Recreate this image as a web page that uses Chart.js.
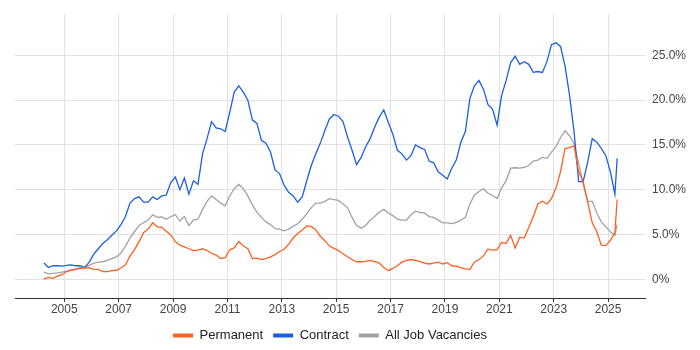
<!DOCTYPE html>
<html>
<head>
<meta charset="utf-8">
<script src="https://cdn.jsdelivr.net/npm/chart.js@4.4.1/dist/chart.umd.min.js"></script>
<style>
html,body{margin:0;padding:0;background:#fff;}
#wrap{width:700px;height:350px;}
</style>
</head>
<body>
<div id="wrap"><canvas id="c" width="700" height="350"></canvas></div>
<script>
// Sample months (YYYY-MM)
const months = [
"2004-04","2004-06","2004-08","2004-10","2004-12",
"2005-02","2005-04","2005-06","2005-08","2005-10","2005-12",
"2006-02","2006-04","2006-06","2006-08","2006-10","2006-12",
"2007-02","2007-04","2007-06","2007-08","2007-10","2007-12",
"2008-02","2008-04","2008-06","2008-08","2008-10","2008-12",
"2009-02","2009-04","2009-06","2009-08","2009-10","2009-12",
"2010-02","2010-04","2010-06","2010-08","2010-10","2010-12",
"2011-02","2011-04","2011-06","2011-08","2011-10","2011-12",
"2012-02","2012-04","2012-06","2012-08","2012-10","2012-12",
"2013-02","2013-04","2013-06","2013-08","2013-10","2013-12",
"2014-02","2014-04","2014-06","2014-08","2014-10","2014-12",
"2015-02","2015-04","2015-06","2015-08","2015-10","2015-12",
"2016-02","2016-04","2016-06","2016-08","2016-10","2016-12",
"2017-02","2017-04","2017-06","2017-08","2017-10","2017-12",
"2018-02","2018-04","2018-06","2018-08","2018-10","2018-12",
"2019-02","2019-04","2019-06","2019-08","2019-10","2019-12",
"2020-02","2020-04","2020-06","2020-08","2020-10","2020-12",
"2021-02","2021-04","2021-06","2021-08","2021-10","2021-12",
"2022-02","2022-04","2022-06","2022-08","2022-10","2022-12",
"2023-02","2023-04","2023-06","2023-08","2023-10","2023-12",
"2024-02","2024-04","2024-06","2024-08","2024-10","2024-12",
"2025-02","2025-04","2025-05"
];

const permanent = [
0.0,0.2,0.1,0.35,0.5,0.85,1.0,1.1,1.2,1.25,
1.3,1.1,1.1,0.85,0.85,0.95,1.0,1.25,1.6,2.6,
3.3,4.2,5.2,5.6,6.3,5.85,5.8,5.35,4.95,4.2,
3.8,3.6,3.4,3.2,3.25,3.4,3.2,2.9,2.7,2.3,
2.4,3.3,3.5,4.2,3.7,3.4,2.3,2.35,2.2,2.3,
2.5,2.75,3.1,3.35,3.9,4.6,5.1,5.5,5.95,5.9,
5.5,4.8,4.3,3.7,3.45,3.2,2.85,2.5,2.2,1.95,
1.95,2.0,2.1,1.95,1.8,1.3,0.95,1.2,1.5,1.9,
2.1,2.2,2.1,1.95,1.8,1.7,1.8,1.9,1.7,1.85,
1.5,1.45,1.3,1.15,1.1,1.9,2.2,2.6,3.35,3.25,
3.3,4.1,4.0,4.9,3.5,4.7,4.6,5.8,7.0,8.4,
8.7,8.4,9.0,10.2,12.0,14.6,14.7,14.9,12.0,10.9,
8.6,6.3,5.3,3.8,3.75,4.35,5.2,8.9
];

const contract = [
1.8,1.3,1.5,1.5,1.45,1.55,1.6,1.5,1.5,1.3,
1.9,2.8,3.4,4.0,4.4,4.9,5.4,6.1,7.0,8.5,
9.0,9.2,8.6,8.6,9.2,8.9,9.3,9.4,10.8,11.4,
10.0,11.3,9.5,11.0,10.6,14.0,15.7,17.6,16.9,16.8,
16.5,18.6,20.9,21.6,20.9,20.0,17.8,17.4,15.5,15.2,
14.2,12.2,11.8,10.5,9.7,9.3,8.6,9.2,11.0,12.7,
14.0,15.2,16.6,17.9,18.4,18.2,17.6,15.9,14.4,12.8,
13.6,14.8,15.7,17.0,18.1,18.9,17.5,16.2,14.4,14.0,
13.3,13.8,15.0,14.7,14.5,13.2,13.0,12.0,11.6,11.2,
12.4,13.3,15.3,16.5,20.2,21.6,22.2,21.2,19.5,19.0,
17.2,20.5,22.2,24.2,24.9,24.0,24.3,24.0,23.1,23.2,
23.1,24.3,26.2,26.4,26.0,23.8,20.5,16.4,10.9,10.9,
13.1,15.7,15.3,14.6,13.8,12.0,9.5,13.5
];

const allJobs = [
0.8,0.6,0.65,0.7,0.8,0.9,1.0,1.15,1.3,1.4,
1.55,1.8,1.9,1.95,2.1,2.3,2.5,2.9,3.7,4.6,
5.3,6.0,6.3,6.6,7.2,6.9,6.95,6.7,7.0,7.2,
6.5,7.0,6.0,6.6,6.7,7.8,8.7,9.3,8.9,8.5,
8.2,9.3,10.1,10.6,10.1,9.3,8.3,7.5,6.9,6.4,
6.1,5.65,5.6,5.4,5.6,5.9,6.2,6.7,7.3,8.0,
8.5,8.5,8.7,9.0,8.9,8.8,8.4,8.0,6.9,6.0,
5.7,6.0,6.6,7.0,7.5,7.8,7.4,7.1,6.7,6.6,
6.6,7.2,7.6,7.45,7.4,7.0,6.9,6.6,6.3,6.3,
6.2,6.35,6.6,6.9,8.4,9.4,9.8,10.1,9.6,9.35,
9.0,10.2,11.0,12.4,12.45,12.4,12.5,12.7,13.2,13.3,
13.6,13.5,14.2,14.8,15.8,16.6,16.0,15.1,12.9,10.6,
8.7,8.7,7.4,6.4,5.85,5.3,4.9,6.1
];

const yearTicks = [2005,2007,2009,2011,2013,2015,2017,2019,2021,2023,2025];
const percentTicks = [0,5,10,15,20,25];

const ORANGE = '#ff5f1f';
const BLUE = '#1a5fe3';
const GRAY = '#a2a2a2';

function monthToYear(s){
  const p = s.split('-');
  return Number(p[0]) + (Number(p[1]) - 1) / 12;
}
function toPoints(vals){
  return vals.map((v,i) => ({x: monthToYear(months[i]), y: v}));
}

Chart.defaults.font.family = '"Liberation Sans", Arial, sans-serif';

const ds = (label, vals, color) => ({
  label, data: toPoints(vals), borderColor: color, backgroundColor: color,
  borderWidth: 1.3, pointRadius: 0, pointHoverRadius: 0, tension: 0, fill: false
});

new Chart(document.getElementById('c').getContext('2d'), {
  type: 'line',
  data: { datasets: [
    ds('Permanent', permanent, ORANGE),
    ds('Contract', contract, BLUE),
    ds('All Job Vacancies', allJobs, GRAY)
  ]},
  options: {
    responsive: false,
    animation: false,
    devicePixelRatio: 1,
    layout: { padding: { left: 15, top: 10, right: 0, bottom: -2 } },
    plugins: {
      tooltip: { enabled: false },
      legend: {
        position: 'bottom',
        fullSize: false,
        labels: {
          boxWidth: 20, boxHeight: 4, padding: 10, color: '#222',
          font: { size: 13 },
          generateLabels: chart => Chart.defaults.plugins.legend.labels.generateLabels(chart)
            .map(l => Object.assign({}, l, { lineWidth: 0 }))
        }
      }
    },
    scales: {
      x: {
        type: 'linear',
        min: 2003.187, max: 2026.357,
        afterBuildTicks: s => { s.ticks = yearTicks.map(v => ({ value: v })); },
        afterFit: s => { s.height = 21; },
        grid: { color: '#e2e2e2', tickColor: '#333', tickLength: 4 },
        border: { color: '#333', width: 1 },
        ticks: { padding: 0, color: '#444', font: { size: 12 }, maxRotation: 0, autoSkip: false,
          callback: v => String(v) }
      },
      y: {
        position: 'right',
        min: -2.1, max: 29.6,
        afterBuildTicks: s => { s.ticks = percentTicks.map(v => ({ value: v })); },
        afterFit: s => { s.width = 55; },
        grid: { color: '#e2e2e2', drawTicks: false },
        border: { display: false },
        ticks: { padding: 7, color: '#444', font: { size: 12 },
          callback: v => v === 0 ? '0%' : v.toFixed(1) + '%' }
      }
    }
  }
});
</script>
</body>
</html>
